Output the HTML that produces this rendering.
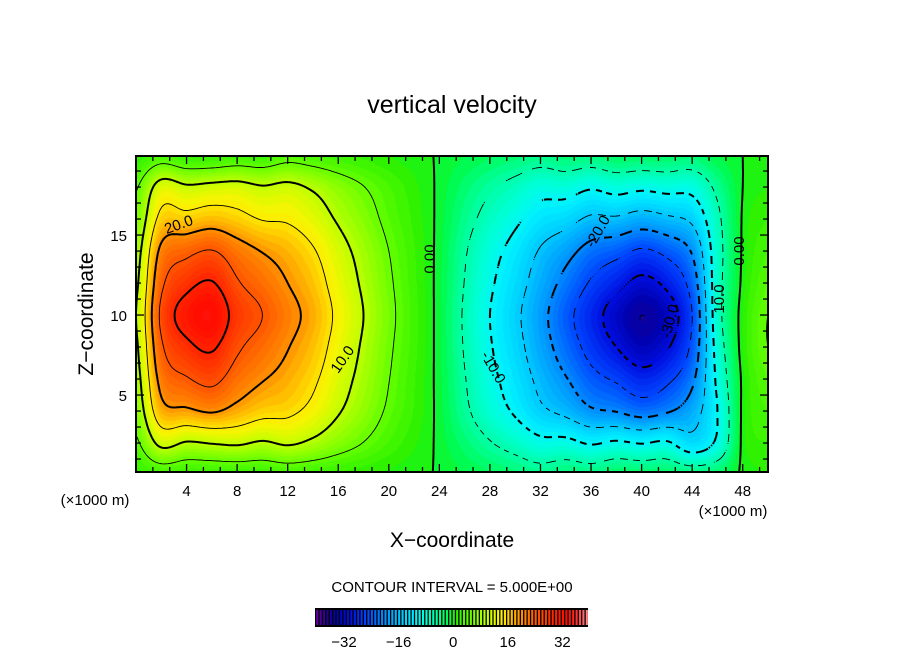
<!DOCTYPE html>
<html><head><meta charset="utf-8"><style>
html,body{margin:0;padding:0;background:#fff;width:904px;height:654px;overflow:hidden}
#wrap{position:relative;width:904px;height:654px}
canvas{position:absolute;left:136px;top:156px}
svg{position:absolute;left:0;top:0}
text{font-family:"Liberation Sans",sans-serif;fill:#000}
</style></head><body>
<div id="wrap">
<canvas id="cv" width="632" height="316"></canvas>
<svg id="sv" width="904" height="654"></svg>
</div>
<script>
const xCoords=[0,2,4,6,8,10,12,14,16,18,20,22,24,26,28,30,32,34,36,38,40,42,44,46,48,50];
const zCoords=[0,2,4,6,8,10,12,14,16,18,20];
const wRows=[
[1.5,2.5,2,2,2,2,2.5,2.2,1.7,1.2,0.7,0.3,-0.15,-1,-1.85,-2.6,-3.4,-2.5,-2.9,-1.9,-2.1,-2,-2.6,-2,0.3,1],
[4.3,11.2,9.6,10.2,10.6,9.5,10.5,9.1,6.9,4.9,2.9,1.2,-0.4,-2.6,-4.75,-6.65,-8.8,-8.7,-10.4,-9.3,-10.2,-9.4,-13,-9,0.5,2],
[7,18.2,19.2,20.4,18.5,16.5,15.9,13.7,10.4,7.4,4.4,1.9,-0.6,-4.2,-7.6,-10.6,-14.1,-16.2,-19.3,-20.2,-22,-20.5,-17.3,-10,0.5,3],
[8.3,21.6,24.6,26.2,22.7,20.3,18.4,15.8,12,8.6,5.1,2.1,-0.7,-4.8,-8.75,-12.25,-16.2,-19.7,-23.5,-25.6,-28,-26,-21,-9,0.5,4],
[9.3,24.2,28.8,30.6,25.8,23,20.2,17.4,13.2,9.4,5.6,2.4,-0.77,-5.3,-9.6,-13.4,-17.8,-22.3,-26.6,-30,-32.9,-30.5,-23.8,-8,1,5],
[10,26,32,34,28,25,21.5,18.5,14,10,6,2.5,-0.8,-5.5,-10,-14,-18.5,-23.5,-28,-32,-35,-32.5,-25,-7,1,5],
[9.2,23.9,28.5,30.3,25.5,22.8,20,17.2,13,9.3,5.6,2.3,-0.75,-5.1,-9.3,-13,-17.2,-21.4,-25.5,-28.5,-31.2,-28.9,-22.8,-7,0.5,4],
[8.1,21.1,23.7,25.2,22.1,19.8,18,15.4,11.7,8.4,5,2.1,-0.66,-4.6,-8.3,-11.6,-15.4,-18.3,-21.8,-23.4,-25.6,-23.7,-19.5,-7,0.3,3],
[6.3,16.4,16.6,17.7,16.5,14.8,14.5,12.5,9.5,6.8,4,1.7,-0.5,-3.6,-6.5,-9.1,-12,-13.3,-15.8,-15.7,-17.2,-15.9,-14,-6,0.2,2],
[4.6,12,10.6,11.2,11.5,10.3,11,9.4,7.1,5.1,3.1,1.3,-0.36,-2.5,-4.5,-6.3,-8.3,-8,-9.5,-8.3,-9.1,-8.5,-8.5,-4,0,1],
[1.2,3.1,1.7,1.7,2.5,2.3,3.7,3.1,2.4,1.7,1,0.4,-0.15,-1,-1.85,-2.6,-3.4,-2.5,-2.9,-1.9,-2.1,-2,-2.6,-1,0,0.5]
];
const contourLevels=[-35,-30,-25,-20,-15,-10,-5,0,5,10,15,20,25,30,35];
const xTickLabels=[4,8,12,16,20,24,28,32,36,40,44,48];
const zTickLabels=[5,10,15];
const barTickLabels=[-32,-16,0,16,32];
const contourLabels=[["20.0",3.4,15.6,-20],["10.0",16.4,7.2,-55],["0.00",23.3,13.5,-90],["-20.0",36.6,15.2,-60],["-10.0",28.2,6.7,60],["10.0",46.2,11,-90],["-30.0",42.3,9.6,-75],["0.00",47.8,14,-90]];

const PX0=136,PX1=768,PY0=156,PY1=472;
const X0=0,X1=50,Z0=0.19,Z1=19.94;
const sx=x=>PX0+(x-X0)/(X1-X0)*(PX1-PX0);
const sz=z=>PY1-(z-Z0)/(Z1-Z0)*(PY1-PY0);
const NS='http://www.w3.org/2000/svg';
const sv=document.getElementById('sv');
function mk(tag,attrs,parent){const e=document.createElementNS(NS,tag);for(const k in attrs)e.setAttribute(k,attrs[k]);(parent||sv).appendChild(e);return e;}

const cstops=[[-40,[112,0,170]],[-37,[40,0,140]],[-34,[0,0,170]],[-30,[0,15,225]],[-25,[0,70,255]],[-20,[0,140,255]],[-15,[0,200,255]],[-11,[0,240,255]],[-8,[0,255,220]],[-4,[0,255,150]],[-1,[0,250,70]],[1,[40,240,0]],[5,[100,255,0]],[10,[190,255,0]],[14,[250,245,0]],[17,[255,200,0]],[20,[255,145,0]],[24,[255,95,0]],[27,[255,65,0]],[30,[255,35,0]],[34,[255,10,0]],[37,[255,60,60]],[40,[255,150,150]]];
function cmap(v){if(v<=cstops[0][0])return cstops[0][1];for(let i=1;i<cstops.length;i++){if(v<=cstops[i][0]){const a=cstops[i-1],b=cstops[i],t=(v-a[0])/(b[0]-a[0]);return a[1].map((c,j)=>Math.round(c+(b[1][j]-c)*t));}}return cstops[cstops.length-1][1];}

function cr(p0,p1,p2,p3,t){return 0.5*((2*p1)+(-p0+p2)*t+(2*p0-5*p1+4*p2-p3)*t*t+(-p0+3*p1-3*p2+p3)*t*t*t);}
function field(x,z){
  const nx=xCoords.length,nz=zCoords.length;
  let fx=(x-xCoords[0])/(xCoords[1]-xCoords[0]),fz=(z-zCoords[0])/(zCoords[1]-zCoords[0]);
  fx=Math.max(0,Math.min(nx-1.0001,fx));fz=Math.max(0,Math.min(nz-1.0001,fz));
  const ix=Math.floor(fx),iz=Math.floor(fz),tx=fx-ix,tz=fz-iz;
  const g=(i,j)=>wRows[Math.max(0,Math.min(nz-1,j))][Math.max(0,Math.min(nx-1,i))];
  const r=[];for(let j=-1;j<=2;j++)r.push(cr(g(ix-1,iz+j),g(ix,iz+j),g(ix+1,iz+j),g(ix+2,iz+j),tx));
  return cr(r[0],r[1],r[2],r[3],tz);
}
const cv=document.getElementById('cv'),ctx=cv.getContext('2d');
const W=632,H=316,img=ctx.createImageData(W,H);
for(let py=0;py<H;py++){const z=Z1-(py+0.5)/H*(Z1-Z0);for(let px=0;px<W;px++){const x=X0+(px+0.5)/W*(X1-X0);const v=field(x,z);const c=cmap(Math.floor(v)+0.5);const k=(py*W+px)*4;img.data[k]=c[0];img.data[k+1]=c[1];img.data[k+2]=c[2];img.data[k+3]=255;}}
ctx.putImageData(img,0,0);

const step=2,gnx=Math.floor(W/step)+1,gnz=Math.floor(H/step)+1;
const S=[];for(let j=0;j<gnz;j++){const row=[];const z=Z1-(j*step)/H*(Z1-Z0);for(let i=0;i<gnx;i++){row.push(field(X0+(i*step)/W*(X1-X0),z));}S.push(row);}
const defs=mk('defs',{});const cp=mk('clipPath',{id:'plotclip'},defs);mk('rect',{x:PX0,y:PY0,width:PX1-PX0,height:PY1-PY0},cp);
const cg=mk('g',{fill:'none',stroke:'#000','clip-path':'url(#plotclip)'});
contourLevels.forEach(L=>{
  let d='';
  for(let j=0;j<gnz-1;j++)for(let i=0;i<gnx-1;i++){
    const a=S[j][i],b=S[j][i+1],c=S[j+1][i+1],e=S[j+1][i];
    const pts=[];
    const X=i*step+PX0,Y=j*step+PY0;
    if((a<L)!==(b<L))pts.push([X+step*(L-a)/(b-a),Y]);
    if((b<L)!==(c<L))pts.push([X+step,Y+step*(L-b)/(c-b)]);
    if((e<L)!==(c<L))pts.push([X+step*(L-e)/(c-e),Y+step]);
    if((a<L)!==(e<L))pts.push([X,Y+step*(L-a)/(e-a)]);
    if(pts.length>=2){
      if(L<0&&Math.floor((X+Y)/7)%2===1)continue;
      d+='M'+pts[0][0].toFixed(1)+' '+pts[0][1].toFixed(1)+'L'+pts[1][0].toFixed(1)+' '+pts[1][1].toFixed(1);
      if(pts.length===4)d+='M'+pts[2][0].toFixed(1)+' '+pts[2][1].toFixed(1)+'L'+pts[3][0].toFixed(1)+' '+pts[3][1].toFixed(1);
    }
  }
  const p=mk('path',{d:d,'stroke-width':(L%10===0)?2:0.9},cg);
  
  
});
contourLabels.forEach(c=>{
  const t=mk('text',{x:sx(c[1]),y:sz(c[2]),'font-size':15,'text-anchor':'middle','dominant-baseline':'middle',transform:'rotate('+c[3]+' '+sx(c[1])+' '+sz(c[2])+')'});
  t.textContent=c[0];
  
  
});

const fr=mk('rect',{x:PX0,y:PY0,width:PX1-PX0,height:PY1-PY0,fill:'none',stroke:'#000','stroke-width':2});

const tg=mk('g',{stroke:'#000','stroke-width':1.3});

for(let k=1;k<40;k++){const x=k*4/3;if(x>=X1)break;const len=(k%3===0)?8:5;mk('line',{x1:sx(x),x2:sx(x),y1:PY1,y2:PY1-len},tg);mk('line',{x1:sx(x),x2:sx(x),y1:PY0,y2:PY0+len},tg);}
for(let z=1;z<20;z++){if(z<Z0||z>Z1)continue;const len=(z%5===0)?8:5;mk('line',{x1:PX0,x2:PX0+len,y1:sz(z),y2:sz(z)},tg);mk('line',{x1:PX1,x2:PX1-len,y1:sz(z),y2:sz(z)},tg);}
xTickLabels.forEach(v=>{const t=mk('text',{x:sx(v),y:496,'font-size':15,'text-anchor':'middle'});t.textContent=v;});
zTickLabels.forEach(v=>{const t=mk('text',{x:127,y:sz(v)+6,'font-size':15,'text-anchor':'end'});t.textContent=v;});

const bx0=315,bx1=588,by0=608,by1=627,vmin=-40,vmax=40;
const cb=mk('g',{});
mk('rect',{x:bx0,y:by0,width:bx1-bx0,height:by1-by0,fill:'#000'},cb);
const bw=(bx1-bx0)/(vmax-vmin);
for(let v=vmin;v<vmax;v++){const c=cmap(v+0.5);const r=mk('rect',{x:bx0+(v-vmin)*bw+1.2,y:by0+2,width:bw*0.62,height:by1-by0-4,fill:'rgb('+c.join(',')+')'},cb);}
barTickLabels.forEach(v=>{const t=mk('text',{x:bx0+(v-vmin+0.5)*bw,y:647,'font-size':15,'text-anchor':'middle'});t.textContent=(v<0?'\u2212'+(-v):v);});
</script>
<svg width="904" height="654" style="position:absolute;left:0;top:0;pointer-events:none">
<text x="452" y="113" font-size="25" text-anchor="middle">vertical velocity</text>
<text x="452" y="547" font-size="21" text-anchor="middle">X−coordinate</text>
<text x="0" y="0" font-size="21" text-anchor="middle" transform="translate(93 314) rotate(-90)">Z−coordinate</text>
<text x="95" y="505" font-size="15" text-anchor="middle">(×1000 m)</text>
<text x="733" y="516" font-size="15" text-anchor="middle">(×1000 m)</text>
<text x="452" y="592" font-size="15" text-anchor="middle">CONTOUR INTERVAL = 5.000E+00</text>
</svg>
</body></html>
